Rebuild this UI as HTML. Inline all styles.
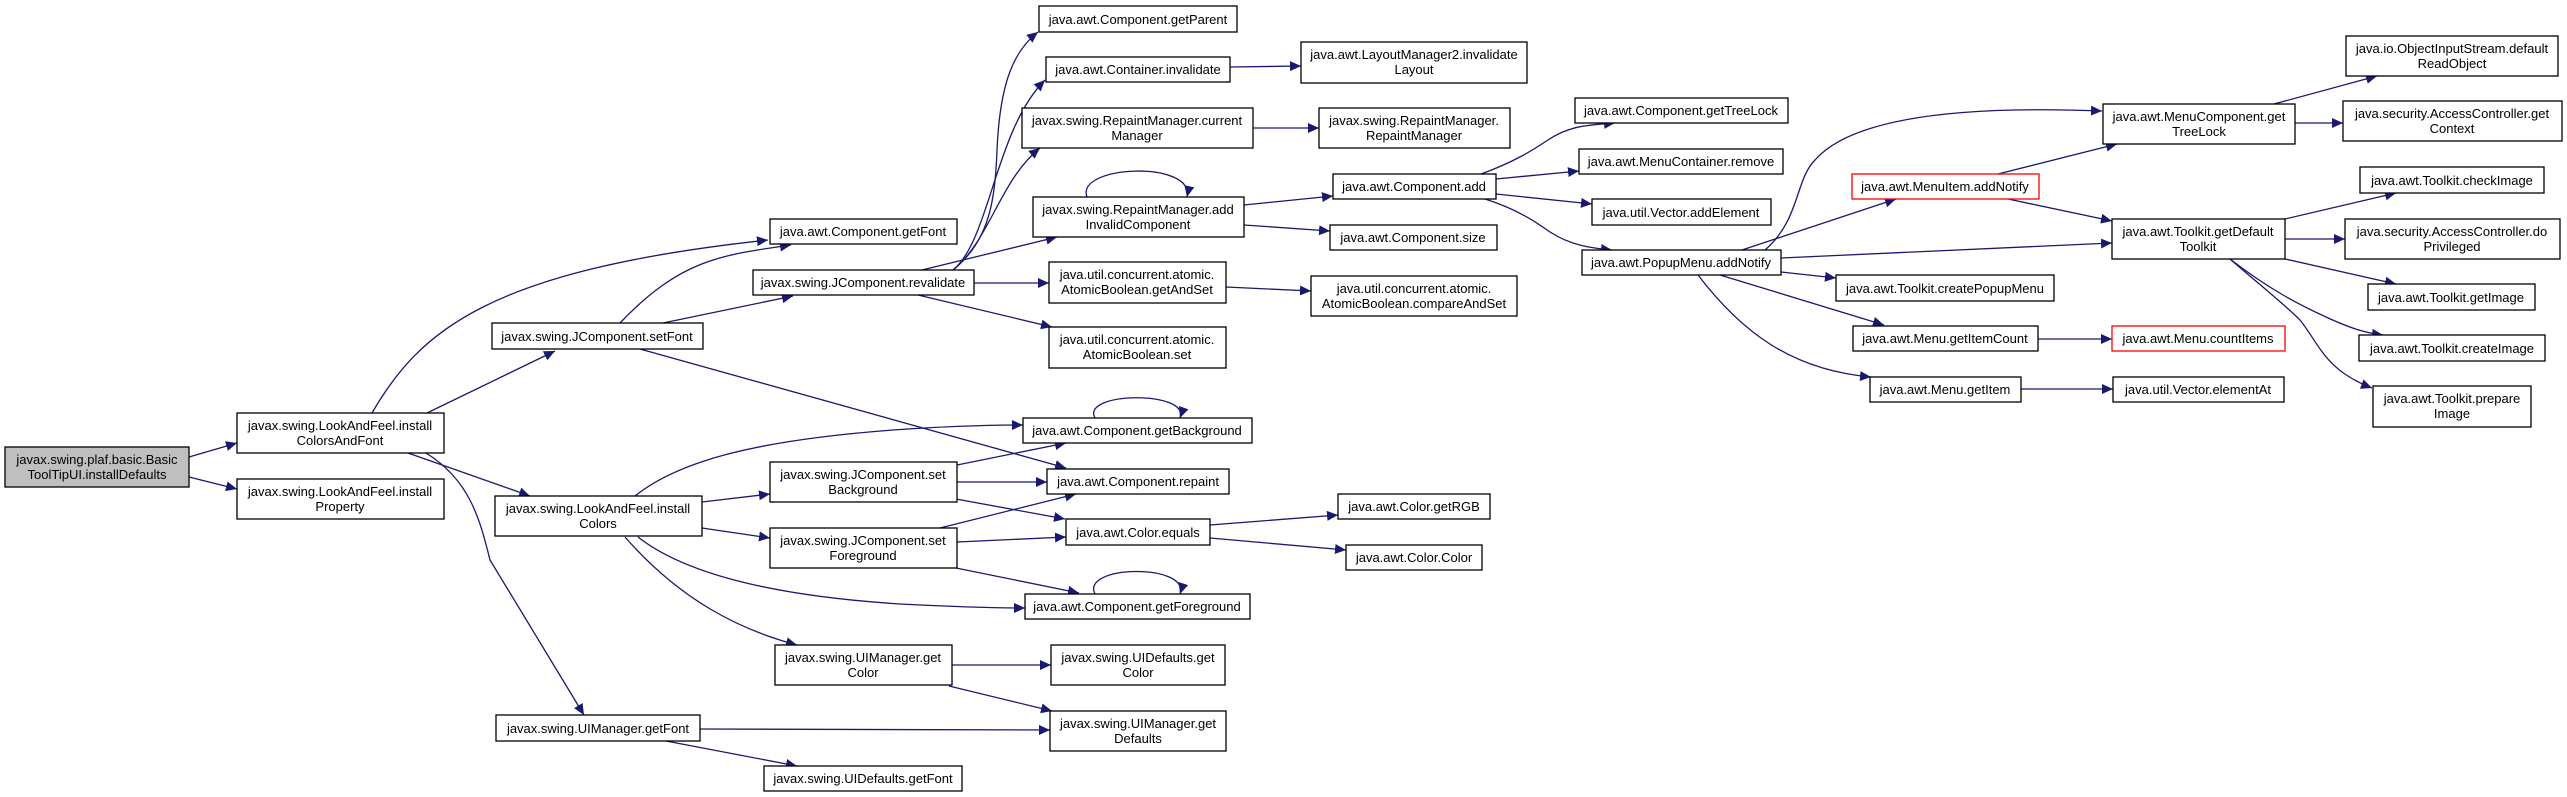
<!DOCTYPE html>
<html><head><meta charset="utf-8"><style>
html,body{margin:0;padding:0;background:#fff;}
svg{display:block}
text{font-family:"Liberation Sans",Arial,sans-serif;font-size:13px;fill:#000;text-anchor:middle}
.n{fill:#fff;stroke:#000;stroke-width:1.3}
.r{fill:#fff;stroke:#ff0000;stroke-width:1.3}
.e{fill:none;stroke:#191970;stroke-width:1.3}
</style></head><body>
<svg width="2567" height="797" viewBox="0 0 2567 797" xmlns="http://www.w3.org/2000/svg">
<defs><marker id="a" markerUnits="userSpaceOnUse" markerWidth="12" markerHeight="10" refX="11" refY="5" orient="auto"><path d="M0,0 L11,5 L0,10 z" fill="#191970"/></marker></defs>
<g class="edges">
<path class="e" marker-end="url(#a)" d="M189,457 L237,443"/>
<path class="e" marker-end="url(#a)" d="M189,477 L237,489"/>
<path class="e" marker-end="url(#a)" d="M372,413 C420,330 490,270 768,240"/>
<path class="e" marker-end="url(#a)" d="M427,413 L555,351"/>
<path class="e" marker-end="url(#a)" d="M408,453 L530,496"/>
<path class="e" marker-end="url(#a)" d="M426,453 C470,480 480,520 490,560 L584,715"/>
<path class="e" marker-end="url(#a)" d="M620,323 C680,260 720,255 791,245"/>
<path class="e" marker-end="url(#a)" d="M663,323 L793,296"/>
<path class="e" marker-end="url(#a)" d="M640,349 L1066,468"/>
<path class="e" marker-end="url(#a)" d="M953,270 C990,240 995,200 997,150 C1000,80 1015,50 1038,32"/>
<path class="e" marker-end="url(#a)" d="M953,270 C990,240 995,130 1045,80"/>
<path class="e" marker-end="url(#a)" d="M953,270 C990,240 1000,180 1040,148"/>
<path class="e" marker-end="url(#a)" d="M922,270 L1057,237"/>
<path class="e" marker-end="url(#a)" d="M974,283 L1049,283"/>
<path class="e" marker-end="url(#a)" d="M918,295 L1052,327"/>
<path class="e" marker-end="url(#a)" d="M1230,67 L1301,66"/>
<path class="e" marker-end="url(#a)" d="M1253,128 L1319,128"/>
<path class="e" marker-end="url(#a)" d="M1087,197 C1075,165 1195,160 1187,197"/>
<path class="e" marker-end="url(#a)" d="M1244,205 L1333,196"/>
<path class="e" marker-end="url(#a)" d="M1244,225 L1330,231"/>
<path class="e" marker-end="url(#a)" d="M1226,287 L1311,291"/>
<path class="e" marker-end="url(#a)" d="M1481,174 C1520,160 1540,145 1548,140 C1570,125 1590,125 1615,123"/>
<path class="e" marker-end="url(#a)" d="M1496,179 L1579,171"/>
<path class="e" marker-end="url(#a)" d="M1496,194 L1592,204"/>
<path class="e" marker-end="url(#a)" d="M1485,199 C1520,210 1540,225 1550,232 C1570,245 1590,248 1612,250"/>
<path class="e" marker-end="url(#a)" d="M1742,250 L1896,199"/>
<path class="e" marker-end="url(#a)" d="M1765,250 C1800,220 1795,180 1815,160 C1850,120 1950,105 2102,111"/>
<path class="e" marker-end="url(#a)" d="M1781,258 L2112,243"/>
<path class="e" marker-end="url(#a)" d="M1781,272 L1836,278"/>
<path class="e" marker-end="url(#a)" d="M1720,275 L1884,325"/>
<path class="e" marker-end="url(#a)" d="M1698,275 C1740,330 1790,370 1871,377"/>
<path class="e" marker-end="url(#a)" d="M1998,174 L2117,144"/>
<path class="e" marker-end="url(#a)" d="M2008,199 L2112,221"/>
<path class="e" marker-end="url(#a)" d="M2038,339 L2112,339"/>
<path class="e" marker-end="url(#a)" d="M2021,389 L2113,389"/>
<path class="e" marker-end="url(#a)" d="M2274,104 L2377,76"/>
<path class="e" marker-end="url(#a)" d="M2295,123 L2343,123"/>
<path class="e" marker-end="url(#a)" d="M2285,219 L2396,193"/>
<path class="e" marker-end="url(#a)" d="M2285,239 L2345,239"/>
<path class="e" marker-end="url(#a)" d="M2285,259 L2396,284"/>
<path class="e" marker-end="url(#a)" d="M2230,259 C2270,290 2300,305 2326,317 C2350,328 2365,333 2383,335"/>
<path class="e" marker-end="url(#a)" d="M2230,259 C2260,285 2285,305 2300,320 C2320,345 2325,370 2372,388"/>
<path class="e" marker-end="url(#a)" d="M635,496 C680,460 760,440 893,430 C950,426 990,425 1023,425"/>
<path class="e" marker-end="url(#a)" d="M702,502 L770,494"/>
<path class="e" marker-end="url(#a)" d="M702,528 L770,538"/>
<path class="e" marker-end="url(#a)" d="M638,537 C680,570 760,595 900,604 C960,607 1000,608 1025,608"/>
<path class="e" marker-end="url(#a)" d="M625,537 C680,600 740,630 797,645"/>
<path class="e" marker-end="url(#a)" d="M957,465 L1066,443"/>
<path class="e" marker-end="url(#a)" d="M957,482 L1047,482"/>
<path class="e" marker-end="url(#a)" d="M956,499 L1065,519"/>
<path class="e" marker-end="url(#a)" d="M940,528 L1076,494"/>
<path class="e" marker-end="url(#a)" d="M957,542 L1066,537"/>
<path class="e" marker-end="url(#a)" d="M956,568 L1079,593"/>
<path class="e" marker-end="url(#a)" d="M1095,418 C1080,392 1190,390 1180,418"/>
<path class="e" marker-end="url(#a)" d="M1095,594 C1080,565 1190,563 1180,594"/>
<path class="e" marker-end="url(#a)" d="M1210,525 L1338,515"/>
<path class="e" marker-end="url(#a)" d="M1210,538 L1346,550"/>
<path class="e" marker-end="url(#a)" d="M952,665 L1051,665"/>
<path class="e" marker-end="url(#a)" d="M949,686 L1052,711"/>
<path class="e" marker-end="url(#a)" d="M700,729 L1050,730"/>
<path class="e" marker-end="url(#a)" d="M666,741 L797,766"/>
</g>
<g class="nodes">
<rect x="5" y="447" width="184" height="40" fill="#bfbfbf" stroke="#000" stroke-width="1.3"/><text x="97" y="464">javax.swing.plaf.basic.Basic</text><text x="97" y="479">ToolTipUI.installDefaults</text>
<rect class="n" x="237" y="413" width="207" height="40"/><text x="340" y="430">javax.swing.LookAndFeel.install</text><text x="340" y="445">ColorsAndFont</text>
<rect class="n" x="237" y="479" width="207" height="40"/><text x="340" y="496">javax.swing.LookAndFeel.install</text><text x="340" y="511">Property</text>
<rect class="n" x="495" y="496" width="207" height="40"/><text x="598" y="513">javax.swing.LookAndFeel.install</text><text x="598" y="528">Colors</text>
<rect class="n" x="492" y="323" width="211" height="26"/><text x="597" y="341">javax.swing.JComponent.setFont</text>
<rect class="n" x="496" y="715" width="204" height="26"/><text x="598" y="733">javax.swing.UIManager.getFont</text>
<rect class="n" x="770" y="219" width="187" height="25"/><text x="863" y="236">java.awt.Component.getFont</text>
<rect class="n" x="753" y="270" width="221" height="25"/><text x="863" y="287">javax.swing.JComponent.revalidate</text>
<rect class="n" x="770" y="462" width="187" height="40"/><text x="863" y="479">javax.swing.JComponent.set</text><text x="863" y="494">Background</text>
<rect class="n" x="770" y="528" width="187" height="40"/><text x="863" y="545">javax.swing.JComponent.set</text><text x="863" y="560">Foreground</text>
<rect class="n" x="775" y="645" width="177" height="40"/><text x="863" y="662">javax.swing.UIManager.get</text><text x="863" y="677">Color</text>
<rect class="n" x="764" y="766" width="198" height="25"/><text x="863" y="783">javax.swing.UIDefaults.getFont</text>
<rect class="n" x="1039" y="6" width="198" height="26"/><text x="1138" y="24">java.awt.Component.getParent</text>
<rect class="n" x="1046" y="57" width="184" height="25"/><text x="1138" y="74">java.awt.Container.invalidate</text>
<rect class="n" x="1022" y="108" width="231" height="40"/><text x="1137" y="125">javax.swing.RepaintManager.current</text><text x="1137" y="140">Manager</text>
<rect class="n" x="1033" y="197" width="211" height="40"/><text x="1138" y="214">javax.swing.RepaintManager.add</text><text x="1138" y="229">InvalidComponent</text>
<rect class="n" x="1049" y="262" width="177" height="41"/><text x="1137" y="279">java.util.concurrent.atomic.</text><text x="1137" y="294">AtomicBoolean.getAndSet</text>
<rect class="n" x="1049" y="327" width="177" height="41"/><text x="1137" y="344">java.util.concurrent.atomic.</text><text x="1137" y="359">AtomicBoolean.set</text>
<rect class="n" x="1023" y="418" width="229" height="25"/><text x="1137" y="435">java.awt.Component.getBackground</text>
<rect class="n" x="1047" y="469" width="182" height="25"/><text x="1138" y="486">java.awt.Component.repaint</text>
<rect class="n" x="1066" y="519" width="144" height="26"/><text x="1138" y="537">java.awt.Color.equals</text>
<rect class="n" x="1025" y="594" width="225" height="25"/><text x="1137" y="611">java.awt.Component.getForeground</text>
<rect class="n" x="1051" y="645" width="174" height="40"/><text x="1138" y="662">javax.swing.UIDefaults.get</text><text x="1138" y="677">Color</text>
<rect class="n" x="1050" y="711" width="176" height="40"/><text x="1138" y="728">javax.swing.UIManager.get</text><text x="1138" y="743">Defaults</text>
<rect class="n" x="1301" y="42" width="226" height="41"/><text x="1414" y="59">java.awt.LayoutManager2.invalidate</text><text x="1414" y="74">Layout</text>
<rect class="n" x="1319" y="108" width="191" height="40"/><text x="1414" y="125">javax.swing.RepaintManager.</text><text x="1414" y="140">RepaintManager</text>
<rect class="n" x="1333" y="174" width="163" height="25"/><text x="1414" y="191">java.awt.Component.add</text>
<rect class="n" x="1330" y="225" width="167" height="25"/><text x="1413" y="242">java.awt.Component.size</text>
<rect class="n" x="1311" y="276" width="206" height="40"/><text x="1414" y="293">java.util.concurrent.atomic.</text><text x="1414" y="308">AtomicBoolean.compareAndSet</text>
<rect class="n" x="1338" y="494" width="152" height="25"/><text x="1414" y="511">java.awt.Color.getRGB</text>
<rect class="n" x="1346" y="545" width="136" height="25"/><text x="1414" y="562">java.awt.Color.Color</text>
<rect class="n" x="1575" y="98" width="213" height="25"/><text x="1681" y="115">java.awt.Component.getTreeLock</text>
<rect class="n" x="1579" y="149" width="204" height="25"/><text x="1681" y="166">java.awt.MenuContainer.remove</text>
<rect class="n" x="1592" y="199" width="179" height="26"/><text x="1681" y="217">java.util.Vector.addElement</text>
<rect class="n" x="1582" y="250" width="199" height="25"/><text x="1681" y="267">java.awt.PopupMenu.addNotify</text>
<rect class="r" x="1852" y="174" width="187" height="25"/><text x="1945" y="191">java.awt.MenuItem.addNotify</text>
<rect class="n" x="1836" y="275" width="218" height="26"/><text x="1945" y="293">java.awt.Toolkit.createPopupMenu</text>
<rect class="n" x="1853" y="326" width="185" height="25"/><text x="1945" y="343">java.awt.Menu.getItemCount</text>
<rect class="n" x="1870" y="377" width="151" height="25"/><text x="1945" y="394">java.awt.Menu.getItem</text>
<rect class="n" x="2103" y="104" width="192" height="40"/><text x="2199" y="121">java.awt.MenuComponent.get</text><text x="2199" y="136">TreeLock</text>
<rect class="n" x="2112" y="219" width="173" height="40"/><text x="2198" y="236">java.awt.Toolkit.getDefault</text><text x="2198" y="251">Toolkit</text>
<rect class="r" x="2112" y="326" width="173" height="25"/><text x="2198" y="343">java.awt.Menu.countItems</text>
<rect class="n" x="2113" y="377" width="171" height="25"/><text x="2198" y="394">java.util.Vector.elementAt</text>
<rect class="n" x="2346" y="36" width="212" height="40"/><text x="2452" y="53">java.io.ObjectInputStream.default</text><text x="2452" y="68">ReadObject</text>
<rect class="n" x="2343" y="101" width="219" height="40"/><text x="2452" y="118">java.security.AccessController.get</text><text x="2452" y="133">Context</text>
<rect class="n" x="2360" y="167" width="184" height="26"/><text x="2452" y="185">java.awt.Toolkit.checkImage</text>
<rect class="n" x="2345" y="219" width="215" height="40"/><text x="2452" y="236">java.security.AccessController.do</text><text x="2452" y="251">Privileged</text>
<rect class="n" x="2368" y="284" width="167" height="26"/><text x="2451" y="302">java.awt.Toolkit.getImage</text>
<rect class="n" x="2359" y="335" width="186" height="26"/><text x="2452" y="353">java.awt.Toolkit.createImage</text>
<rect class="n" x="2373" y="386" width="158" height="41"/><text x="2452" y="403">java.awt.Toolkit.prepare</text><text x="2452" y="418">Image</text>
</g>
</svg>
</body></html>
